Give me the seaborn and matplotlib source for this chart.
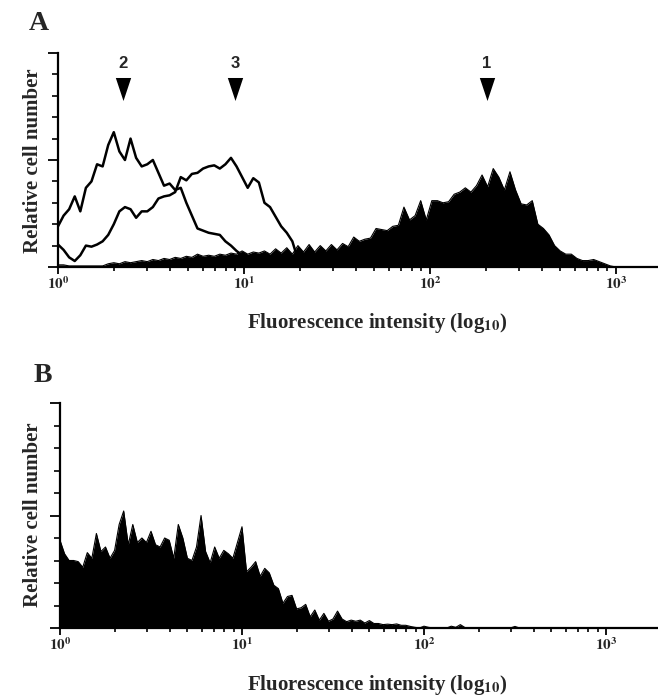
import numpy as np
import matplotlib
matplotlib.use("Agg")
import matplotlib.pyplot as plt
from matplotlib.markers import MarkerStyle
from matplotlib.ticker import LogLocator, NullFormatter, FixedLocator
import seaborn as sns

# ---------------- data ----------------
# Panel A: histogram channels, spacing in log10 units
a_step = 0.03
# population 1 (filled)
a_pop1 = [0.1, 0.1, 0.05, 0.05, 0.05, 0.05, 0.05, 0.05, 0.05, 0.15,
          0.2, 0.15, 0.25, 0.2, 0.25, 0.3, 0.25, 0.35, 0.3, 0.4,
          0.35, 0.45, 0.4, 0.5, 0.45, 0.6, 0.5, 0.55, 0.5, 0.6,
          0.55, 0.65, 0.6, 0.75, 0.6, 0.7, 0.65, 0.75, 0.6, 0.85,
          0.65, 0.9, 0.6, 1.0, 0.7, 1.05, 0.7, 1.0, 0.75, 1.05,
          0.8, 1.1, 0.95, 1.4, 1.2, 1.3, 1.35, 1.8, 1.75, 1.7,
          1.9, 1.95, 2.8, 2.2, 2.4, 3.1, 2.2, 3.1, 3.1, 3.0,
          3.05, 3.4, 3.5, 3.7, 3.5, 3.8, 4.3, 3.75, 4.6, 4.2,
          3.6, 4.45, 3.6, 2.95, 2.9, 3.1, 2.0, 1.8, 1.5, 1.0,
          0.75, 0.6, 0.6, 0.4, 0.3, 0.3, 0.35, 0.25, 0.15, 0.05,
          0.0]
# population 2 (outline, low intensity)
a_pop2 = [1.9, 2.4, 2.7, 3.3, 2.6, 3.7, 4.0, 4.8, 4.7, 5.7,
          6.3, 5.4, 5.0, 6.0, 5.1, 4.7, 4.8, 5.0, 4.4, 3.8,
          3.9, 3.6, 3.7, 3.0, 2.4, 1.8, 1.7, 1.6, 1.55, 1.5,
          1.2, 1.0, 0.75, 0.55, 0.4, 0.3, 0.25, 0.2, 0.2, 0.2,
          0.15, 0.15, 0.15, 0.1, 0.1, 0.05, 0.0]
# population 3 (outline, intermediate intensity)
a_pop3 = [1.05, 0.8, 0.45, 0.28, 0.55, 1.0, 0.95, 1.05, 1.2, 1.5,
          2.0, 2.6, 2.8, 2.7, 2.3, 2.6, 2.6, 2.8, 3.2, 3.3,
          3.35, 3.5, 4.2, 4.05, 4.35, 4.4, 4.6, 4.7, 4.75, 4.6,
          4.8, 5.1, 4.7, 4.2, 3.7, 4.15, 3.95, 3.0, 2.8, 2.35,
          1.9, 1.6, 1.2, 0.35, 0.25, 0.2, 0.2, 0.15, 0.1, 0.05,
          0.0]

# Panel B: histogram channels
b_step = 0.025
b_counts = [3.9, 3.3, 3.0, 3.0, 2.95, 2.7, 3.35, 3.1, 4.2, 3.4,
            3.6, 3.1, 3.45, 4.6, 5.2, 3.7, 4.6, 3.8, 4.0, 3.8,
            4.3, 3.7, 3.6, 4.0, 3.9, 3.1, 4.6, 4.0, 3.1, 3.0,
            3.6, 5.0, 3.4, 2.9, 3.6, 3.1, 3.45, 3.3, 3.1, 3.8,
            4.5, 2.5, 2.7, 2.95, 2.3, 2.65, 2.45, 1.9, 1.75, 1.1,
            1.4, 1.45, 0.85, 0.9, 1.05, 0.5, 0.8, 0.35, 0.65, 0.3,
            0.4, 0.75, 0.4, 0.28, 0.35, 0.3, 0.35, 0.22, 0.33, 0.2,
            0.2, 0.15, 0.17, 0.15, 0.18, 0.12, 0.12, 0.07, 0.03, 0.0,
            0.08, 0.03, 0.0, 0.0, 0.0, 0.0, 0.08, 0.03, 0.15, 0.02,
            0.0, 0.0, 0.0, 0.0, 0.0, 0.0, 0.0, 0.0, 0.0, 0.0,
            0.07, 0.0]

# arrows marking population peaks (panel A)
arrow_intensity = [202.0, 2.24, 8.95]
arrow_labels = ["1", "2", "3"]

x_ticks = [1, 10, 100, 1000]
x_tick_labels = [r"$\mathbf{10^{0}}$", r"$\mathbf{10^{1}}$",
                 r"$\mathbf{10^{2}}$", r"$\mathbf{10^{3}}$"]
y_label = "Relative cell number"
x_label = r"Fluorescence intensity (log$_{\mathbf{10}}$)"

# ---------------- style ----------------
sns.set_theme(style="white")
plt.rcParams["font.family"] = ["Liberation Serif", "DejaVu Serif"]
plt.rcParams["mathtext.fontset"] = "stix"

W, H = 658, 696
fig = plt.figure(figsize=(W / 100, H / 100), dpi=100)
fig.patch.set_facecolor("white")

axA = fig.add_axes([58 / W, (H - 267) / H, 600 / W, 214 / H])
axB = fig.add_axes([60 / W, (H - 628) / H, 598 / W, 225 / H])


def channels(step, n):
    return 10 ** (np.arange(n) * step)


def style_axis(ax, xmax_log):
    ax.set_xscale("log")
    ax.set_xlim(1, 10 ** xmax_log)
    ax.set_ylim(0, 10)
    ax.set_facecolor("white")
    for s in ["top", "right"]:
        ax.spines[s].set_visible(False)
    for s in ["left", "bottom"]:
        ax.spines[s].set_color("black")
        ax.spines[s].set_linewidth(1.6)
    ax.xaxis.set_major_locator(FixedLocator(x_ticks))
    ax.set_xticklabels(x_tick_labels, fontsize=11)
    ax.xaxis.set_minor_locator(LogLocator(base=10, subs=np.arange(2, 10)))
    ax.xaxis.set_minor_formatter(NullFormatter())
    ax.set_yticks([0, 5, 10])
    ax.set_yticklabels([])
    ax.yaxis.set_minor_locator(FixedLocator(np.arange(1, 10)))
    ax.tick_params(axis="x", which="major", direction="out", length=5,
                   width=1.3, color="black", pad=1, bottom=True)
    ax.tick_params(axis="x", which="minor", direction="out", length=3,
                   width=1.2, color="black", bottom=True)
    ax.tick_params(axis="y", which="major", direction="out", length=7,
                   width=1.3, color="black", left=True)
    ax.tick_params(axis="y", which="minor", direction="out", length=4,
                   width=1.2, color="black", left=True)
    ax.grid(False)


# ---------- Panel A ----------
style_axis(axA, 3.226)
xa1 = channels(a_step, len(a_pop1))
axA.fill_between(xa1, a_pop1, 0, color="black", lw=0)
sns.lineplot(x=xa1, y=a_pop1, ax=axA, color="black", lw=0.8)
sns.lineplot(x=channels(a_step, len(a_pop2)), y=a_pop2, ax=axA,
             color="black", lw=1.8)
sns.lineplot(x=channels(a_step, len(a_pop3)), y=a_pop3, ax=axA,
             color="black", lw=1.8)

tri = MarkerStyle([(-1.0, 1.5), (1.0, 1.5), (0.0, -1.5), (-1.0, 1.5)])
sns.scatterplot(x=arrow_intensity, y=[8.34] * len(arrow_intensity), ax=axA,
                marker=tri, s=275, color="black", linewidth=0, clip_on=False)
for xi, lab in zip(arrow_intensity, arrow_labels):
    axA.text(xi, 9.53, lab, ha="center", va="center", fontsize=12,
             fontweight="bold", family=["Liberation Sans", "DejaVu Sans"])

axA.set_xlabel(x_label, fontsize=15, fontweight="bold")
axA.xaxis.set_label_coords(0.532, -0.205)
axA.set_ylabel(y_label, fontsize=15, fontweight="bold")
axA.yaxis.set_label_coords(-0.025, 0.495)

# ---------- Panel B ----------
style_axis(axB, 3.286)
xb = channels(b_step, len(b_counts))
axB.fill_between(xb, b_counts, 0, color="black", lw=0)
sns.lineplot(x=xb, y=b_counts, ax=axB, color="black", lw=0.8)

axB.set_xlabel(x_label, fontsize=15, fontweight="bold")
axB.xaxis.set_label_coords(0.53, -0.2)
axB.set_ylabel(y_label, fontsize=15, fontweight="bold")
axB.yaxis.set_label_coords(-0.028, 0.502)

for ax in (axA, axB):
    leg = ax.get_legend()
    if leg is not None:
        leg.remove()

fig.text(39 / W, 1 - 24 / H, "A", ha="center", va="center", fontsize=20,
         fontweight="bold")
fig.text(43 / W, 1 - 376 / H, "B", ha="center", va="center", fontsize=20,
         fontweight="bold")

fig.savefig("out.png", dpi=100, facecolor="white")
